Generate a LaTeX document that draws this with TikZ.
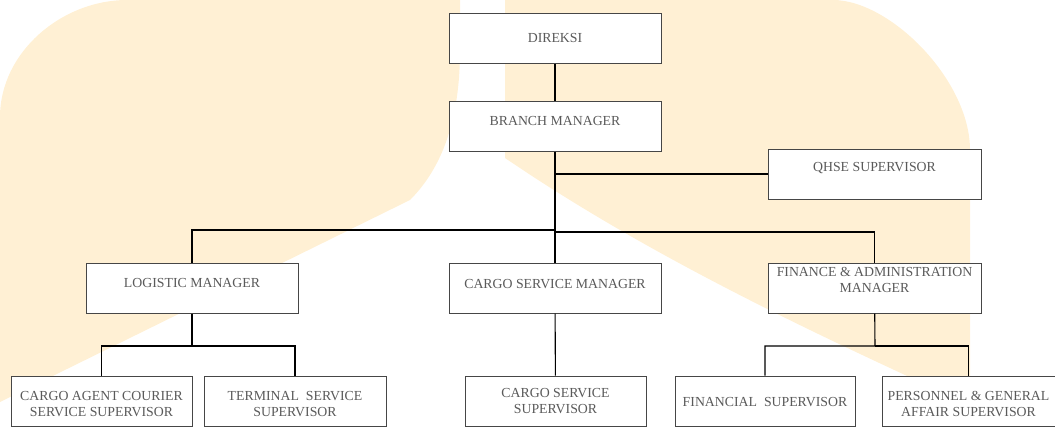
\documentclass[tikz,border=0pt]{standalone}
\usepackage{fontspec}
\setmainfont{Liberation Serif}
\usetikzlibrary{calc,positioning}
\definecolor{wmark}{RGB}{255,240,212}
\definecolor{boxline}{RGB}{70,70,70}
\definecolor{boxtext}{RGB}{90,90,90}

\begin{document}
\begin{tikzpicture}[x=1pt,y=-1pt,
		unit/.style={draw=boxline,fill=white,line width=1pt,minimum height=50pt,inner sep=0pt},
		wide/.style={unit,minimum width=212pt},
		every label/.style={text=boxtext,font=\fontsize{13.8}{16.7}\selectfont,align=center},
		link/.style={line width=1.1pt}]
		\useasboundingbox (0,0) rectangle (1055,426);
		\fill[wmark]
			(127,0) -- (460,0) -- (460,50)
			.. controls (460,120) and (442,168) .. (410,200)
			-- (0,402) -- (0,117)
			.. controls (0,52) and (62,0) .. (127,0)
			;
		\fill[wmark]
			(505,0) -- (833,0)
			.. controls (890,0) and (970,80) .. (970,150)
			-- (970,405)
			.. controls (820,336) and (655,260) .. (505,158)
			-- cycle
			;
		\node[wide,label={center:DIREKSI}] (direksi) at (555,38) {};
		\node[wide,label={[yshift=5.5pt]center:BRANCH MANAGER}] (branch) at (555,126) {};
		\node[wide,minimum width=213pt,label={[yshift=6pt]center:QHSE SUPERVISOR}] (qhse) at (874.5,174) {};
		\node[wide,label={[yshift=5pt]center:LOGISTIC MANAGER}] (logistic) at (192,288) {};
		\node[wide,label={[yshift=4pt]center:CARGO SERVICE MANAGER}] (cargomgr) at (555,288) {};
		\node[wide,minimum width=213pt,label={[yshift=8pt]center:FINANCE \& ADMINISTRATION\\MANAGER}] (finance) at (874.5,288) {};
		\node[unit,minimum width=181pt,label={[yshift=-3pt]center:CARGO AGENT COURIER\\SERVICE SUPERVISOR}] (agent) at (101.5,401) {};
		\node[unit,minimum width=182pt,label={[yshift=-3pt]center:TERMINAL~ SERVICE\\SUPERVISOR}] (terminal) at (295,401) {};
		\node[unit,minimum width=181pt,label={center:CARGO SERVICE\\SUPERVISOR}] (cargosup) at (555.5,401) {};
		\node[unit,minimum width=180pt,label={[yshift=-1pt]center:FINANCIAL~ SUPERVISOR}] (financial) at (765,401) {};
		\node[unit,minimum width=173pt,label={[yshift=-3pt]center:PERSONNEL \& GENERAL\\AFFAIR SUPERVISOR}] (personnel) at (968.5,401) {};
		\path
			(555,230) coordinate (hub-l)
			(555,232) coordinate (hub-r)
			(192,346) coordinate (log-hub)
			(875,346) coordinate (fin-hub)
			;
		\draw[link] (direksi) -- (branch);
		\draw[link] (branch) -- (hub-r);
		\draw[link] (qhse) -- (qhse -| branch.south);
		\draw[link] (hub-l) -| (logistic);
		\draw[link] (hub-r) -| (finance);
		\draw[link] (hub-l) -- (cargomgr);
		\draw[link] (logistic) -- (log-hub) -| (agent);
		\draw[link] (log-hub) -| (terminal);
		\draw[link] (cargomgr) -- (cargosup);
		\draw[link] (finance) -- (fin-hub) -| (financial);
		\draw[link] (fin-hub) -| (personnel);
	\end{tikzpicture}
\end{document}
